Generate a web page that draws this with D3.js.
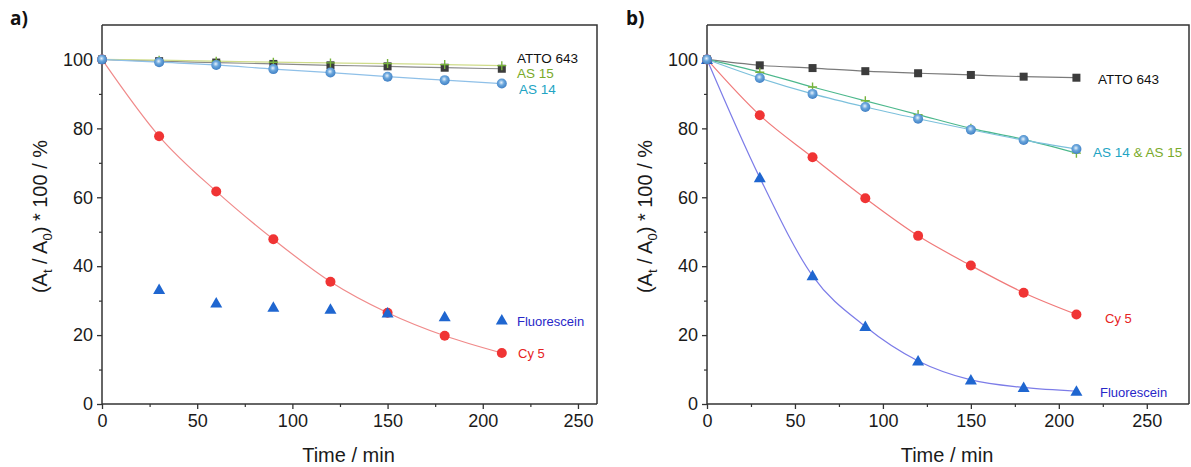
<!DOCTYPE html>
<html>
<head>
<meta charset="utf-8">
<script src="https://cdn.jsdelivr.net/npm/d3@7"></script>
<style>
  body { margin: 0; background: #fff; }
  svg { font-family: 'Liberation Sans', Arial, sans-serif; }
</style>
</head>
<body>
<svg id="chart" width="1191" height="467"></svg>
<script>
const times = [0, 30, 60, 90, 120, 150, 180, 210];

// panel a
const aAtto = [100, 99.5, 99.1, 98.7, 98.3, 98.0, 97.6, 97.3];
const aAs15 = [100, 99.8, 99.5, 99.2, 99.0, 98.8, 98.5, 98.2];
const aAs14 = [100, 99.2, 98.4, 97.2, 96.2, 95.0, 94.0, 93.0];
const aCy5 = [100, 77.7, 61.7, 47.8, 35.5, 26.5, 19.8, 14.8];
const aFluo = [null, 33.2, 29.3, 28.1, 27.5, 26.4, 25.3, 24.4];

// panel b
const bAtto = [100, 98.3, 97.5, 96.6, 96.0, 95.5, 95.0, 94.7];
const bAs15 = [100, 96.3, 92.0, 88.0, 84.0, 80.0, 76.8, 72.8];
const bAs14 = [100, 94.6, 90.0, 86.2, 82.8, 79.6, 76.6, 74.0];
const bCy5 = [100, 83.8, 71.6, 59.7, 48.8, 40.2, 32.3, 26.0];
const bFluo = [100, 65.7, 37.2, 22.5, 12.5, 7.0, 4.8, 3.7];

const xTicks = [0, 50, 100, 150, 200, 250];
const yTicks = [0, 20, 40, 60, 80, 100];

const svg = d3.select('#chart');
const defs = svg.append('defs');

// shaded sphere for AS 14 markers
const grad = defs.append('radialGradient').attr('id', 'sphere')
    .attr('cx', '45%').attr('cy', '40%').attr('r', '60%');
grad.append('stop').attr('offset', '0%').attr('stop-color', '#e8f2fb');
grad.append('stop').attr('offset', '45%').attr('stop-color', '#6aa6dc');
grad.append('stop').attr('offset', '100%').attr('stop-color', '#3f7fc4');

// series are drawn in this order, so the spheres end up on top at t = 0
const panels = [
    {
        tag: 'a)', tagX: 10, left: 102, right: 597, xMax: 260,
        series: [
            {vals: aCy5, marker: 'circle', color: '#f03434', line: '#f08a8a'},
            {vals: aFluo, marker: 'tri', color: '#1f66d0', line: null},
            {vals: aAtto, marker: 'square', color: '#3c3c3c', line: '#8a8a8a'},
            {vals: aAs15, marker: 'plus', color: '#78b43c', line: '#cfdc8a'},
            {vals: aAs14, marker: 'sphere', color: '#5b9bd5', line: '#8fc0e8'}
        ],
        labels: [
            {text: 'ATTO 643', x: 517, y: 63, color: '#111'},
            {text: 'AS 15', x: 517, y: 78, color: '#7aaa2a'},
            {text: 'AS 14', x: 519, y: 94, color: '#22a4c4'},
            {text: 'Fluorescein', x: 517, y: 326, color: '#2828c8', size: 13},
            {text: 'Cy 5', x: 518, y: 358, color: '#e62222', size: 13}
        ]
    },
    {
        tag: 'b)', tagX: 626, left: 707, right: 1189, xMax: 274,
        series: [
            {vals: bFluo, marker: 'tri', color: '#1f66d0', line: '#7c7ce8'},
            {vals: bCy5, marker: 'circle', color: '#f03434', line: '#f07a7a'},
            {vals: bAtto, marker: 'square', color: '#3c3c3c', line: '#7a7a7a'},
            {vals: bAs15, marker: 'plus', color: '#78b43c', line: '#4cb88c'},
            {vals: bAs14, marker: 'sphere', color: '#5b9bd5', line: '#7cc0dc'}
        ],
        labels: [
            {text: 'ATTO 643', x: 1098, y: 84, color: '#111'},
            {text: 'Cy 5', x: 1105, y: 323, color: '#e62222', size: 13},
            {text: 'Fluorescein', x: 1100, y: 397, color: '#2828c8', size: 13}
        ]
    }
];

const plotTop = 25, plotBottom = 404;

panels.forEach(p => {
    const x = d3.scaleLinear().domain([0, p.xMax]).range([p.left, p.right]);
    const y = d3.scaleLinear().domain([0, 110]).range([plotBottom, plotTop]);
    const g = svg.append('g');

    // frame
    g.append('path')
        .attr('d', `M${p.left},${plotTop}H${p.right}V${plotBottom}`)
        .attr('fill', 'none').attr('stroke', '#333').attr('stroke-width', 1.5);

    // minor ticks
    const xMinor = d3.range(25, p.xMax, 50);
    const yMinor = d3.range(10, 110, 20);
    g.append('g').attr('transform', `translate(0,${plotBottom})`)
        .call(d3.axisBottom(x).tickValues(xMinor).tickSize(3).tickFormat(''))
        .call(s => s.select('.domain').remove())
        .selectAll('line').attr('stroke', '#333').attr('stroke-width', 1.2);
    g.append('g').attr('transform', `translate(${p.left},0)`)
        .call(d3.axisLeft(y).tickValues(yMinor).tickSize(3).tickFormat(''))
        .call(s => s.select('.domain').remove())
        .selectAll('line').attr('stroke', '#333').attr('stroke-width', 1.2);

    // major axes
    const xa = g.append('g').attr('transform', `translate(0,${plotBottom})`)
        .call(d3.axisBottom(x).tickValues(xTicks).tickSize(5).tickSizeOuter(0).tickPadding(5));
    const ya = g.append('g').attr('transform', `translate(${p.left},0)`)
        .call(d3.axisLeft(y).tickValues(yTicks).tickSize(5).tickSizeOuter(0).tickPadding(4));
    [xa, ya].forEach(a => {
        a.select('.domain').attr('stroke', '#333').attr('stroke-width', 1.5);
        a.selectAll('line').attr('stroke', '#333').attr('stroke-width', 1.3);
        a.selectAll('text').attr('font-size', 18).attr('fill', '#1a1a1a')
            .attr('font-family', "'Liberation Sans', Arial, sans-serif");
    });
    ya.select('.domain').attr('d', `M0,${plotBottom}V${plotTop}`);
    xa.select('.domain').attr('d', `M${p.left},0H${p.right}`);

    // axis titles
    svg.append('text')
        .attr('x', (p.left + p.right) / 2 - 1).attr('y', 462)
        .attr('text-anchor', 'middle').attr('font-size', 20).attr('fill', '#1a1a1a')
        .text('Time / min');
    const yt = svg.append('text')
        .attr('transform', `translate(${p.left - 55},${(plotTop + plotBottom) / 2 + 2}) rotate(-90)`)
        .attr('text-anchor', 'middle').attr('font-size', 20).attr('fill', '#1a1a1a');
    yt.append('tspan').text('(A');
    yt.append('tspan').attr('font-size', 13).attr('dy', 5).text('t');
    yt.append('tspan').attr('dy', -5).text(' / A');
    yt.append('tspan').attr('font-size', 13).attr('dy', 5).text('0');
    yt.append('tspan').attr('dy', -5).text(') * 100 / %');

    // panel tag
    svg.append('text').attr('x', p.tagX).attr('y', 25)
        .attr('font-family', "'Open Sans', 'DejaVu Sans', sans-serif")
        .attr('font-weight', 'bold').attr('font-size', 19).attr('fill', '#111')
        .text(p.tag);

    // lines
    const line = d3.line()
        .defined(d => d[1] != null)
        .x(d => x(d[0])).y(d => y(d[1]))
        .curve(d3.curveMonotoneX);
    p.series.forEach(s => {
        if (!s.line) return;
        const pts = times.map((t, i) => [t, s.vals[i]]);
        g.append('path').datum(pts).attr('d', line)
            .attr('fill', 'none').attr('stroke', s.line).attr('stroke-width', 1.2);
    });

    // markers
    p.series.forEach(s => {
        const pts = times.map((t, i) => [t, s.vals[i]]).filter(d => d[1] != null);
        const mg = g.append('g');
        pts.forEach(d => {
            const cx = x(d[0]), cy = y(d[1]);
            if (s.marker === 'square') {
                mg.append('rect').attr('x', cx - 4).attr('y', cy - 4)
                    .attr('width', 8).attr('height', 8).attr('fill', s.color);
            } else if (s.marker === 'circle') {
                mg.append('circle').attr('cx', cx).attr('cy', cy).attr('r', 5)
                    .attr('fill', s.color);
            } else if (s.marker === 'sphere') {
                mg.append('circle').attr('cx', cx).attr('cy', cy).attr('r', 5)
                    .attr('fill', 'url(#sphere)');
            } else if (s.marker === 'tri') {
                mg.append('path')
                    .attr('d', `M${cx},${cy - 6}L${cx + 6},${cy + 4.5}L${cx - 6},${cy + 4.5}Z`)
                    .attr('fill', s.color);
            } else if (s.marker === 'plus') {
                mg.append('path')
                    .attr('d', `M${cx - 4.5},${cy}H${cx + 4.5}M${cx},${cy - 4.5}V${cy + 4.5}`)
                    .attr('stroke', s.color).attr('stroke-width', 1.4);
            }
        });
    });

    // series labels
    p.labels.forEach(l => {
        svg.append('text').attr('x', l.x).attr('y', l.y)
            .attr('font-size', l.size || 13.5).attr('fill', l.color).text(l.text);
    });
});

// combined label in panel b
const comb = svg.append('text').attr('x', 1093).attr('y', 157).attr('font-size', 13.5);
comb.append('tspan').attr('fill', '#22a4c4').text('AS 14 ');
comb.append('tspan').attr('fill', '#7aaa2a').text('&');
comb.append('tspan').attr('fill', '#7aaa2a').text(' AS 15');
</script>
</body>
</html>
